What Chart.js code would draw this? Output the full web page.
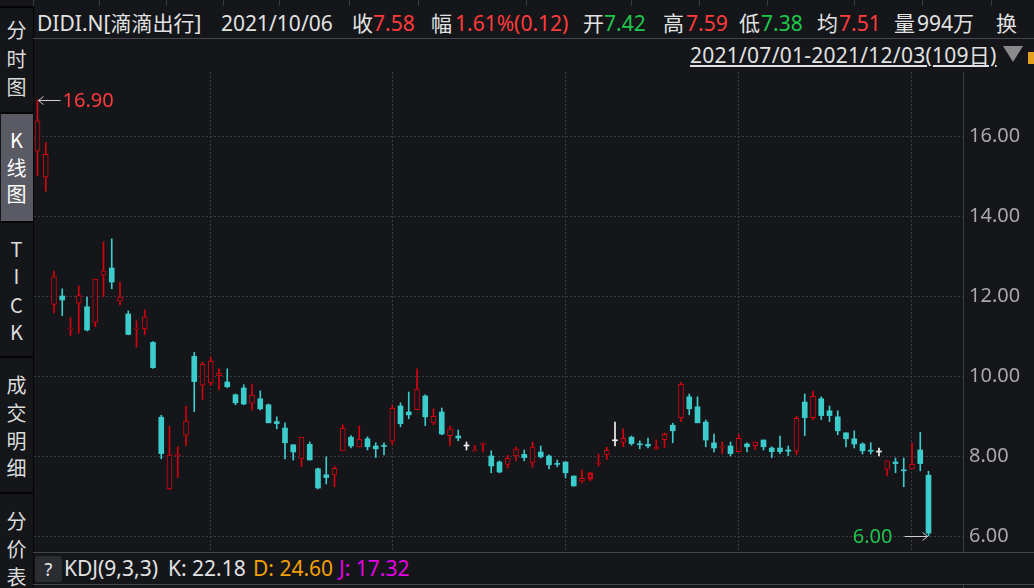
<!DOCTYPE html>
<html lang="zh-CN">
<head>
<meta charset="utf-8">
<title>DIDI.N K线图</title>
<script src="https://cdn.jsdelivr.net/npm/chart.js@4.4.1/dist/chart.umd.min.js"></script>
<style>
  body { margin:0; width:1034px; height:588px; overflow:hidden; background:#14161a; position:relative;
         font-family:"Noto Sans","Noto Sans CJK SC",sans-serif; color:#e2e2e2; }
  .t { position:absolute; white-space:nowrap; font-size:21px; line-height:21px; }
  .red { color:#ff3b3b; }
  .green { color:#1fc64c; }
  .hl { position:absolute; height:1px; background:#45464c; }
  .vl { position:absolute; width:1px; background:#3c3d43; }
  #side { position:absolute; left:0; top:0; width:33px; height:588px; border-right:1px solid #050505; }
  .side-on { position:absolute; left:1px; top:114px; width:32px; height:107px; background:#5a5a64; }
  .sep { position:absolute; left:0; width:33px; height:2px; background:#050505; }
  .ch { position:absolute; left:0; width:33px; text-align:center; font-family:"Noto Sans CJK SC",sans-serif;
        font-size:20px; line-height:20px; color:#dcdcdc; }
  #kline { position:absolute; left:0; top:0; }
</style>
</head>
<body>
<div id="side">
  <div class="sep" style="top:6px"></div>
  <div class="side-on"></div>
  <div class="sep" style="top:112px"></div>
  <div class="sep" style="top:221px"></div>
  <div class="sep" style="top:356px"></div>
  <div class="sep" style="top:492px"></div>
  <div class="ch" style="top:20px">分</div>
  <div class="ch" style="top:49px">时</div>
  <div class="ch" style="top:77px">图</div>
  <div class="ch" style="top:130px;color:#fff">K</div>
  <div class="ch" style="top:158px;color:#fff">线</div>
  <div class="ch" style="top:184px;color:#fff">图</div>
  <div class="ch" style="top:239px">T</div>
  <div class="ch" style="top:266px">I</div>
  <div class="ch" style="top:295px">C</div>
  <div class="ch" style="top:322px">K</div>
  <div class="ch" style="top:375px">成</div>
  <div class="ch" style="top:403px">交</div>
  <div class="ch" style="top:431px">明</div>
  <div class="ch" style="top:458px">细</div>
  <div class="ch" style="top:511px">分</div>
  <div class="ch" style="top:539px">价</div>
  <div class="ch" style="top:567px">表</div>
</div>

<div id="topstrip"></div>

<span class="t" style="left:37px;top:13px">DIDI.N[滴滴出行]</span>
<span class="t" style="left:221px;top:13px">2021/10/06</span>
<span class="t" style="left:352px;top:13px">收</span><span class="t red" style="left:373px;top:13px">7.58</span>
<span class="t" style="left:431px;top:13px">幅</span><span class="t red" style="left:455px;top:13px">1.61%(0.12)</span>
<span class="t" style="left:583px;top:13px">开</span><span class="t green" style="left:604px;top:13px">7.42</span>
<span class="t" style="left:663px;top:13px">高</span><span class="t red" style="left:686px;top:13px">7.59</span>
<span class="t" style="left:739px;top:13px">低</span><span class="t green" style="left:761px;top:13px">7.38</span>
<span class="t" style="left:817px;top:13px">均</span><span class="t red" style="left:839px;top:13px">7.51</span>
<span class="t" style="left:894px;top:13px">量</span><span class="t" style="left:917px;top:13px">994万</span>
<span class="t" style="left:996px;top:13px">换</span>
<div class="hl" style="left:33px;top:38px;width:1001px"></div>

<span class="t" id="range" style="left:690px;top:45px;letter-spacing:0.25px;text-decoration:underline;text-underline-offset:2px">2021/07/01-2021/12/03(109日)</span>
<div style="position:absolute;left:1003px;top:46px;width:0;height:0;border-left:10px solid transparent;border-right:10px solid transparent;border-top:16px solid #8a8a8a"></div>
<div style="position:absolute;left:1028px;top:52px;width:8px;height:12px;background:#e6a020"></div>

<div class="hl" style="left:33px;top:552px;width:1001px"></div>
<div class="hl" style="left:33px;top:584px;width:1001px"></div>
<div class="vl" style="left:963px;top:585px;height:3px"></div>
<div style="position:absolute;left:35px;top:556px;width:27px;height:26px;border-radius:3px;background:#2c2d33;color:#e8e8e8;font-size:18px;line-height:26px;text-align:center">?</div>
<span class="t" style="left:64px;top:558px">KDJ(9,3,3)</span>
<span class="t" style="left:168px;top:558px">K: 22.18</span>
<span class="t" style="left:253px;top:558px;color:#f5a000">D: 24.60</span>
<span class="t" style="left:339px;top:558px;color:#e600e6">J: 17.32</span>

<canvas id="kline" width="1034" height="588"></canvas>

<script>
// month boundaries (trading-day index where each month starts)
const monthLabels = ['2021/08', '2021/09', '2021/10', '2021/11', '2021/12'];
const monthStarts = [21, 43, 64, 85, 106];
const priceTicks = [6, 8, 10, 12, 14, 16];
const selectedIndex = 67; // 2021/10/06

// daily candles 2021/07/01 - 2021/12/03 (109 trading days)
const opens = [
  15.62, 14.98, 11.79, 12.00, 11.17, 11.82, 11.73, 11.34, 12.52, 12.70,
  11.87, 11.55, 11.17, 11.18, 10.84, 8.97, 7.18, 8.01, 8.52, 10.49,
  9.77, 9.83, 10.01, 9.85, 9.53, 9.70, 9.32, 9.43, 9.28, 8.86,
  8.70, 8.28, 7.93, 8.29, 7.68, 7.53, 7.53, 8.13, 8.47, 8.23,
  8.43, 8.25, 8.25, 8.37, 9.25, 9.10, 9.16, 9.50, 8.83, 9.10,
  8.51, 8.50, 8.25, 8.13, 8.29, 8.00, 7.85, 7.79, 8.00, 8.04,
  7.84, 8.10, 8.00, 7.81, 7.85, 7.50, 7.37, 7.42, 7.80, 8.03,
  8.38, 8.34, 8.47, 8.30, 8.29, 8.17, 8.41, 8.77, 8.96, 9.48,
  9.23, 8.85, 8.33, 8.22, 8.25, 8.11, 8.30, 8.26, 8.40, 8.20,
  8.20, 8.15, 8.12, 9.35, 8.96, 9.43, 9.13, 8.98, 8.58, 8.43,
  8.30, 8.14, 8.10, 7.67, 7.85, 7.65, 7.68, 8.15, 7.52
];
const highs = [
  16.90, 15.84, 12.62, 12.18, 11.46, 12.25, 11.97, 12.42, 13.35, 13.43,
  12.35, 11.63, 11.38, 11.65, 10.86, 9.02, 8.74, 8.23, 9.24, 10.59,
  10.34, 10.47, 10.18, 10.18, 9.55, 9.78, 9.80, 9.63, 9.30, 8.98,
  8.83, 8.28, 8.47, 8.35, 7.70, 7.98, 7.73, 8.78, 8.51, 8.75,
  8.48, 8.33, 8.33, 9.27, 9.33, 9.60, 10.18, 9.53, 9.18, 9.20,
  8.75, 8.65, 8.35, 8.27, 8.33, 8.13, 7.88, 8.02, 8.22, 8.15,
  8.35, 8.25, 8.03, 7.90, 7.85, 7.50, 7.65, 7.59, 8.05, 8.22,
  8.85, 8.68, 8.50, 8.38, 8.45, 8.40, 8.58, 8.82, 9.84, 9.55,
  9.48, 8.90, 8.55, 8.35, 8.35, 8.54, 8.33, 8.35, 8.40, 8.23,
  8.50, 8.25, 8.99, 9.55, 9.62, 9.48, 9.25, 9.13, 8.58, 8.63,
  8.33, 8.33, 8.20, 7.88, 7.95, 7.95, 8.32, 8.59, 7.62
];
const lows = [
  15.01, 14.62, 11.58, 11.51, 11.01, 11.07, 11.13, 11.23, 11.98, 12.18,
  11.78, 11.03, 10.72, 11.03, 10.19, 7.93, 7.16, 7.46, 8.26, 9.11,
  9.41, 9.76, 9.66, 9.71, 9.28, 9.28, 9.15, 9.15, 8.83, 8.68,
  7.93, 7.90, 7.73, 7.90, 7.18, 7.30, 7.23, 8.13, 8.20, 8.23,
  8.15, 7.96, 8.03, 8.29, 8.73, 8.93, 9.16, 8.76, 8.78, 8.53,
  8.26, 8.38, 8.15, 8.12, 8.10, 7.58, 7.58, 7.70, 7.88, 7.88,
  7.72, 7.95, 7.68, 7.73, 7.45, 7.25, 7.33, 7.38, 7.75, 7.91,
  8.25, 8.23, 8.27, 8.18, 8.20, 8.17, 8.21, 8.33, 8.86, 9.03,
  8.83, 8.23, 8.10, 8.06, 8.00, 8.11, 8.10, 8.16, 8.15, 7.96,
  8.06, 8.01, 8.03, 8.51, 8.91, 8.91, 8.86, 8.53, 8.23, 8.20,
  8.05, 8.05, 8.00, 7.50, 7.58, 7.23, 7.68, 7.63, 6.00
];
const closes = [
  16.38, 15.54, 12.48, 11.90, 11.19, 12.01, 11.15, 12.42, 12.63, 12.35,
  11.97, 11.04, 11.19, 11.48, 10.21, 8.06, 8.02, 8.03, 8.87, 9.86,
  10.29, 10.37, 10.07, 9.73, 9.33, 9.30, 9.52, 9.18, 8.83, 8.81,
  8.33, 8.10, 8.47, 7.90, 7.20, 7.46, 7.69, 8.69, 8.25, 8.42,
  8.23, 8.18, 8.24, 9.19, 8.81, 9.03, 9.67, 8.98, 8.99, 8.55,
  8.67, 8.45, 8.25, 8.15, 8.31, 7.75, 7.60, 7.94, 8.17, 7.96,
  8.22, 7.98, 7.78, 7.79, 7.58, 7.25, 7.44, 7.58, 7.82, 8.15,
  8.38, 8.44, 8.31, 8.28, 8.25, 8.22, 8.54, 8.63, 9.79, 9.18,
  8.83, 8.40, 8.20, 8.24, 8.06, 8.44, 8.23, 8.35, 8.23, 8.11,
  8.11, 8.12, 8.94, 8.96, 9.49, 9.01, 9.01, 8.63, 8.43, 8.30,
  8.13, 8.12, 8.10, 7.88, 7.81, 7.63, 7.79, 7.81, 6.07
];

// little column dividers of the cut-off quote table at the very top
[33, 99, 166, 223, 279, 349, 418, 526, 631, 699, 767, 854, 922, 991].forEach(x => {
  const d = document.createElement('div');
  d.className = 'vl';
  d.style.cssText = `left:${x}px;top:0;height:6px;background:#3a3b40`;
  document.getElementById('topstrip').appendChild(d);
});

const upColor = '#d7000f';
const downColor = '#3dcccc';
const flatColor = '#f2f2f2';
const bgColor = '#14161a';
const gridColor = '#3a3d45';

function candleColor(i) {
  if (closes[i] > opens[i]) return upColor;
  if (closes[i] < opens[i]) return downColor;
  return flatColor;
}

const idx = opens.map((o, i) => i);
const wickData = idx.map(i => ({ x: i, y: [lows[i], highs[i]] }));
const bodyData = idx.map(i => ({ x: i, y: [Math.min(opens[i], closes[i]), Math.max(opens[i], closes[i])] }));

// arrows to the highest high and lowest low
const markerPlugin = {
  id: 'markers',
  afterDraw(chart) {
    const { ctx, scales: { x, y } } = chart;
    const hi = Math.max(...highs), hiIdx = highs.indexOf(hi);
    const lo = Math.min(...lows), loIdx = lows.indexOf(lo);
    ctx.save();
    ctx.strokeStyle = '#cfcfcf';
    ctx.lineWidth = 1;
    ctx.font = '20px "Noto Sans"';
    ctx.textBaseline = 'middle';

    let px = x.getPixelForValue(hiIdx);
    let py = Math.round(y.getPixelForValue(hi)) + 0.5;
    ctx.beginPath();
    ctx.moveTo(px + 1, py); ctx.lineTo(px + 23, py);
    ctx.moveTo(px + 6, py - 4); ctx.lineTo(px + 1, py); ctx.lineTo(px + 6, py + 4);
    ctx.stroke();
    ctx.fillStyle = '#ff3b3b';
    ctx.textAlign = 'left';
    ctx.fillText(hi.toFixed(2), px + 25, py + 1);

    px = x.getPixelForValue(loIdx);
    py = Math.round(y.getPixelForValue(lo)) + 0.5;
    ctx.beginPath();
    ctx.moveTo(px - 1, py); ctx.lineTo(px - 24, py);
    ctx.moveTo(px - 6, py - 4); ctx.lineTo(px - 1, py); ctx.lineTo(px - 6, py + 4);
    ctx.stroke();
    ctx.fillStyle = '#1fc64c';
    ctx.textAlign = 'right';
    ctx.fillText(lo.toFixed(2), px - 36, py + 1);
    ctx.restore();
  }
};

const xMin = -3.5 / 8.25;
const xMax = xMin + 929 / 8.25;

const ctx = document.getElementById('kline').getContext('2d');
new Chart(ctx, {
  type: 'bar',
  data: {
    datasets: [
      {
        label: 'wick',
        data: wickData,
        grouped: false,
        barThickness: 1,
        backgroundColor: idx.map(candleColor),
        borderWidth: 0,
        order: 2
      },
      {
        label: 'body',
        data: bodyData,
        grouped: false,
        barThickness: 5,
        minBarLength: 1,
        backgroundColor: idx.map(i => closes[i] > opens[i] ? bgColor : candleColor(i)),
        borderColor: idx.map(candleColor),
        borderWidth: idx.map(i => closes[i] > opens[i] ? (i === selectedIndex ? 2 : 1) : 0),
        borderSkipped: false,
        order: 1
      }
    ]
  },
  options: {
    responsive: false,
    animation: false,
    layout: { padding: { left: 34, top: 72, right: 0, bottom: 36 } },
    plugins: { legend: { display: false }, tooltip: { enabled: false } },
    scales: {
      x: {
        type: 'linear',
        min: xMin,
        max: xMax,
        offset: false,
        afterBuildTicks: s => { s.ticks = monthStarts.map(v => ({ value: v })); },
        ticks: { display: false },
        grid: { color: gridColor, drawTicks: false, offset: false },
        border: { display: false, dash: [2, 2] }
      },
      y: {
        position: 'right',
        min: 5.6,
        max: 17.6,
        afterBuildTicks: s => { s.ticks = priceTicks.map(v => ({ value: v })); },
        afterFit: s => { s.width = 71; },
        ticks: {
          color: '#a8a8a8',
          font: { family: 'Noto Sans', size: 20 },
          padding: 6,
          callback: v => v.toFixed(2)
        },
        grid: { color: gridColor, drawTicks: false },
        border: { display: true, color: '#3c3d43', dash: [2, 2] }
      }
    }
  },
  plugins: [markerPlugin]
});
</script>
</body>
</html>
